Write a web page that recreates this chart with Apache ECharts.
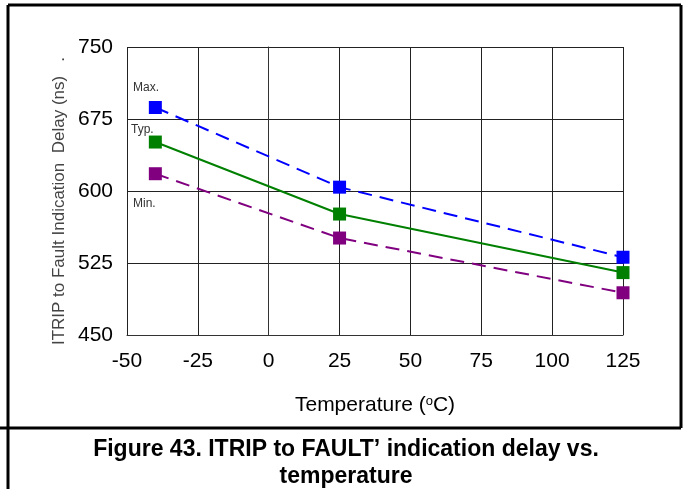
<!DOCTYPE html>
<html><head><meta charset="utf-8">
<script src="https://cdn.jsdelivr.net/npm/echarts@6/dist/echarts.min.js"></script>
<style>html,body{margin:0;padding:0;background:#fff}#c{width:688px;height:489px}</style>
</head><body><div id="c"></div>
<script>
const temps = [-40, 25, 125];
const maxVals = [687, 604, 531];
const typVals = [651, 576, 515];
const minVals = [618, 551, 494];
const xTicks = [-50, -25, 0, 25, 50, 75, 100, 125];
const yTicks = [450, 525, 600, 675, 750];
const yTitle = "ITRIP to Fault Indication  Delay (ns)   .";
const caption1 = "Figure 43. ITRIP to FAULT’ indication delay vs.";
const caption2 = "temperature";

const pair = (xs, ys) => xs.map((x, i) => [x, ys[i]]);
const chart = echarts.init(document.getElementById('c'));
const font = "Liberation Sans, Arial, sans-serif";
function series(name, vals, color, dashed) {
  return {
    name, type: 'line', data: pair(temps, vals), symbol: 'rect', symbolSize: 13,
    itemStyle: { color }, lineStyle: { color, width: 2, type: dashed ? [14, 8] : 'solid' },
    z: 5
  };
}
chart.setOption({
  animation: false,
  grid: { left: 127, right: 65, top: 47, bottom: 154 },
  xAxis: {
    type: 'value', min: -50, max: 125, interval: 25,
    axisLine: { show: true, lineStyle: { color: '#333', width: 1 } },
    axisTick: { show: false },
    splitLine: { show: true, lineStyle: { color: '#222', width: 1 } },
    axisLabel: { color: '#000', fontSize: 21, fontFamily: font, margin: 16 },
    name: '{a|Temperature (}{s|o}{a|C)}', nameLocation: 'middle', nameGap: 60,
    nameTextStyle: { rich: { a: { fontSize: 21, color: '#000', fontFamily: font }, s: { fontSize: 13, color: '#000', fontFamily: font, verticalAlign: 'top', padding: [0, 0, 8, 0] } } }
  },
  yAxis: {
    type: 'value', min: 450, max: 750, interval: 75,
    axisLine: { show: true, lineStyle: { color: '#333', width: 1 } },
    axisTick: { show: false },
    splitLine: { show: true, lineStyle: { color: '#222', width: 1 } },
    axisLabel: { color: '#000', fontSize: 21, fontFamily: font, margin: 14 }
  },
  graphic: [
    { type: 'line', shape: { x1: 8, y1: 5, x2: 8, y2: 489 }, style: { stroke: '#000', lineWidth: 3 } },
    { type: 'line', shape: { x1: 8, y1: 5, x2: 681, y2: 5 }, style: { stroke: '#000', lineWidth: 3 } },
    { type: 'line', shape: { x1: 681, y1: 5, x2: 681, y2: 428 }, style: { stroke: '#000', lineWidth: 3 } },
    { type: 'line', shape: { x1: 0, y1: 428, x2: 681, y2: 428 }, style: { stroke: '#000', lineWidth: 3 } },
    { type: 'text', x: 59, y: 201, rotation: Math.PI / 2, style: { text: yTitle, fontSize: 17, fill: '#444', fontFamily: font, align: 'center', verticalAlign: 'middle' } },
    { type: 'text', left: 133, top: 82, style: { text: 'Max.', fontSize: 12, fill: '#333', fontFamily: font } },
    { type: 'text', left: 131, top: 124, style: { text: 'Typ.', fontSize: 12, fill: '#333', fontFamily: font } },
    { type: 'text', left: 133, top: 198, style: { text: 'Min.', fontSize: 12, fill: '#333', fontFamily: font } },
    { type: 'text', x: 346, y: 450, style: { text: caption1, fontSize: 23, fontWeight: 'bold', fill: '#000', fontFamily: font, align: 'center', verticalAlign: 'middle' } },
    { type: 'text', x: 346, y: 477, style: { text: caption2, fontSize: 23, fontWeight: 'bold', fill: '#000', fontFamily: font, align: 'center', verticalAlign: 'middle' } }
  ],
  series: [
    series('Max.', maxVals, '#0000FF', true),
    series('Typ.', typVals, '#008000', false),
    series('Min.', minVals, '#800080', true)
  ]
});
</script></body></html>
